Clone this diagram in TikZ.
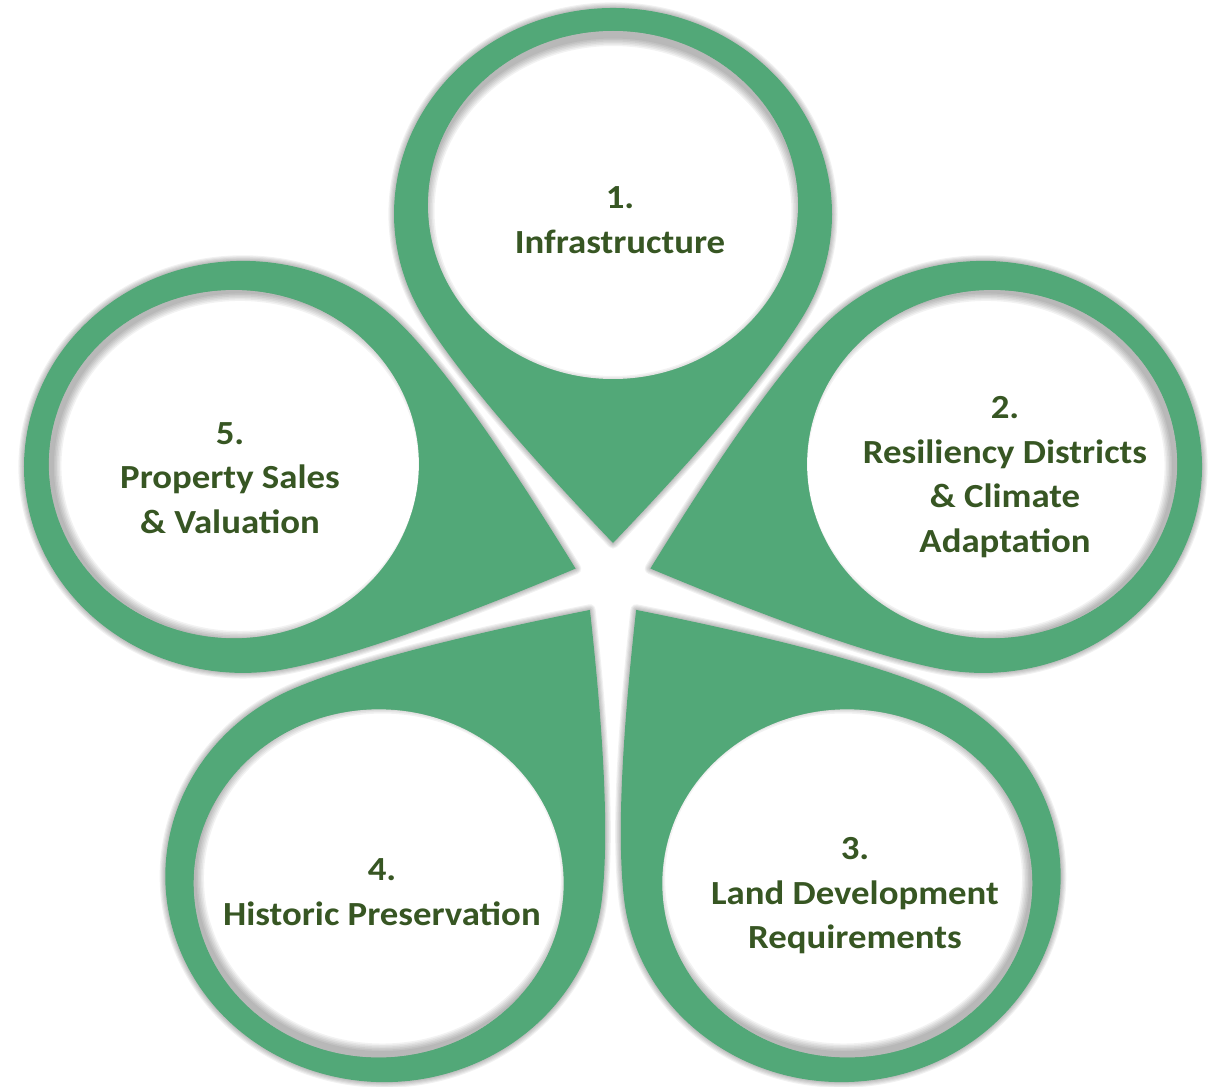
\documentclass[tikz,border=0pt]{standalone}
\usepackage{fontspec}
\setmainfont{Carlito}[FakeStretch=1.09]
\definecolor{petalgreen}{HTML}{52A878}
\definecolor{textgreen}{HTML}{375623}
\tikzstyle{petal}=[fill=petalgreen]
\tikzstyle{hole}=[fill=white]
\tikzstyle{dropshadow}=[draw=black, opacity=.055, line join=round]
\tikzstyle{innershadow}=[draw=black, opacity=.05]
\tikzstyle{droppath}=[insert path={(0,-329) .. controls (89.1,-230) and (148.6,-154.7) .. (-30:206)
  arc[start angle=-30, end angle=210, radius=206]
  .. controls (-148.6,-154.7) and (-89.1,-230) .. cycle}]
\tikzstyle{petaltext}=[text=textgreen, align=center, font=\bfseries\fontsize{24}{31.6}\selectfont]

\begin{document}
\begin{tikzpicture}[x=0.025cm, y=0.025cm]
  \useasboundingbox (-613,-507) rectangle (600,580);

  \begin{scope}[xscale=1.063]
    % soft shadow under the drops
    \foreach \a in {90,18,-54,-126,162} {
      \begin{scope}[shift={(\a:366)}, rotate=\a-90]
        \foreach \w in {1,...,5}
          \draw[dropshadow, line width=\w*1.6pt] [droppath];
      \end{scope}
    }
    % drops with white windows
    \foreach \a in {90,18,-54,-126,162} {
      \begin{scope}[shift={(\a:366)}, rotate=\a-90]
        \fill[petal] [droppath];
        \fill[hole] (0,9) circle[radius=174];
        \begin{scope}
          \clip (0,9) circle[radius=174];
          \foreach \j in {1,...,6}
            \draw[innershadow, line width=(80+3*\j)*0.7113pt] (0,3) circle[radius=214];
        \end{scope}
      \end{scope}
    }
  \end{scope}

  \node[petaltext] (infra)    at (7,360)    {1.\\Infrastructure};
  \node[petaltext] (resil)    at (392,103)  {2.\\Resiliency Districts\\\& Climate\\Adaptation};
  \node[petaltext] (landdev)  at (242,-316) {3.\\Land Development\\Requirements};
  \node[petaltext] (historic) at (-231,-312) {4.\\Historic Preservation};
  \node[petaltext] (property) at (-383,102) {5.\\Property Sales\\\& Valuation};
\end{tikzpicture}
\end{document}
